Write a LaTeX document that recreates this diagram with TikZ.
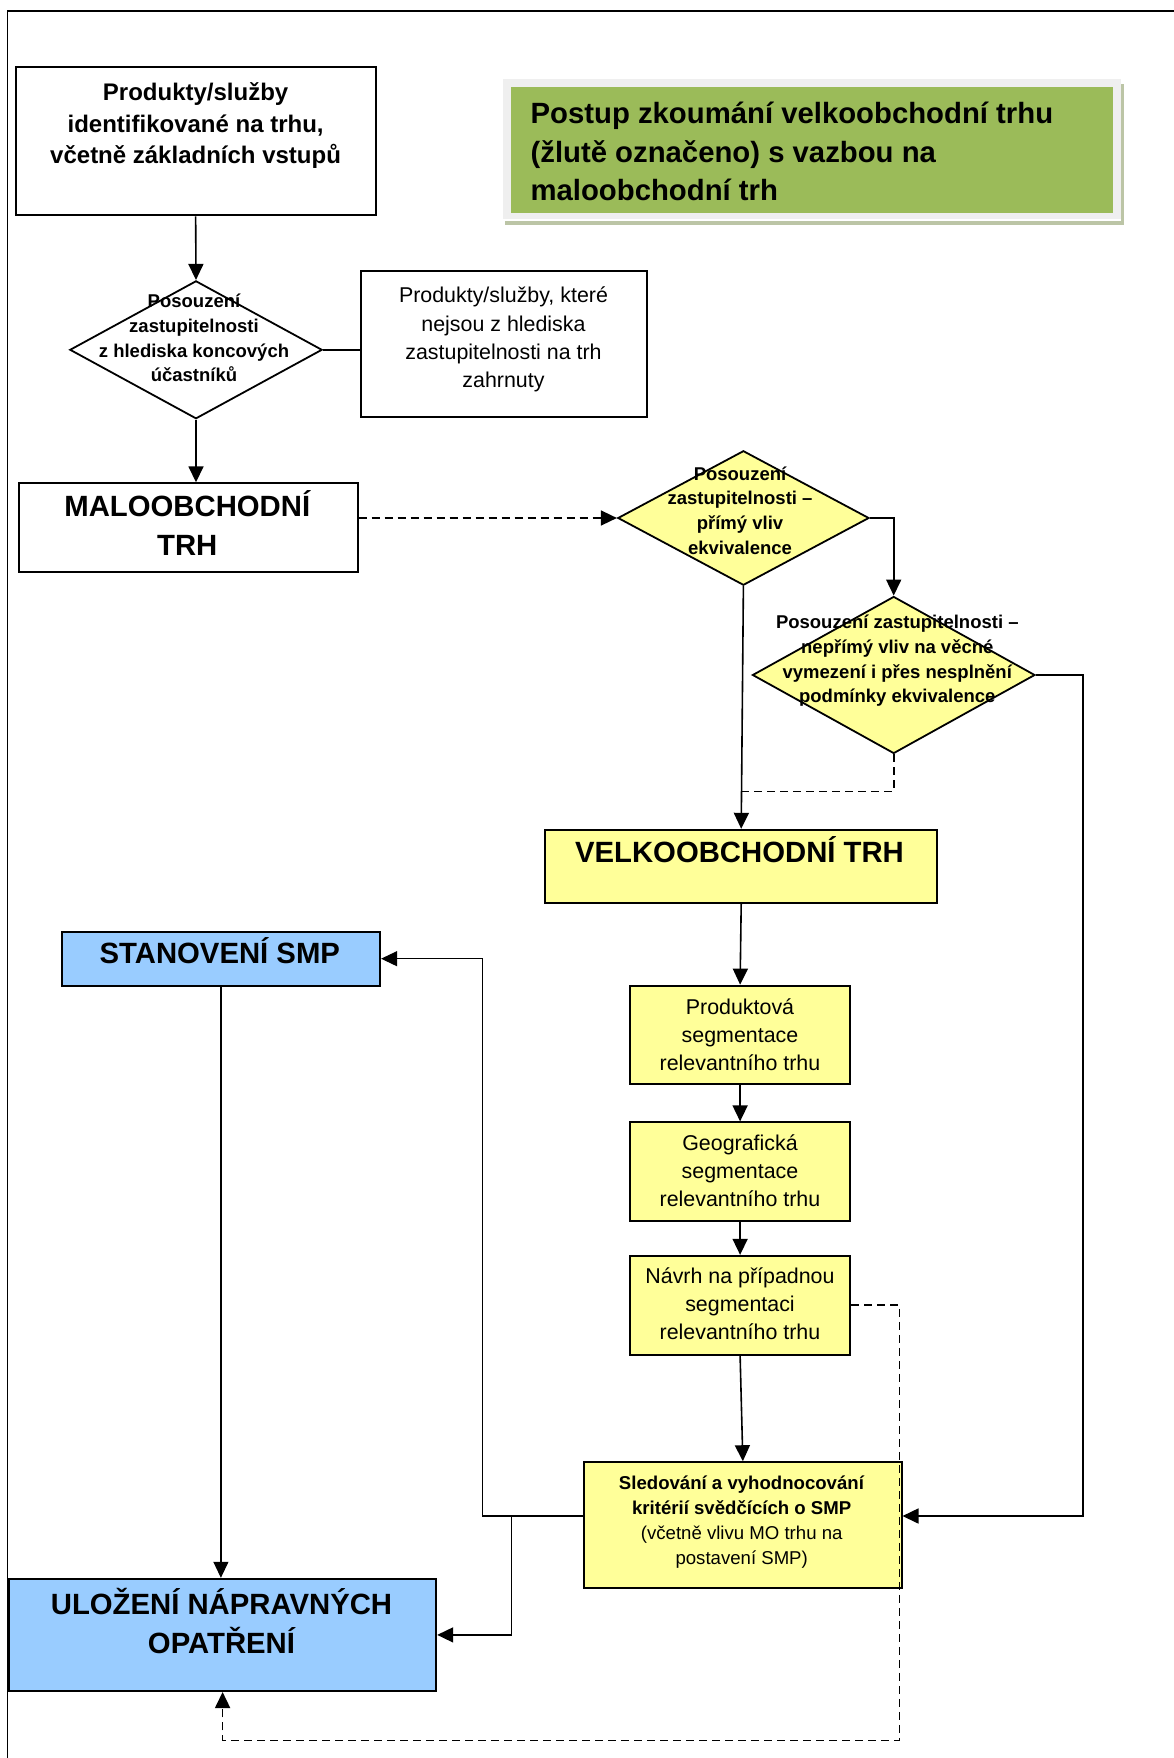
\documentclass[tikz,border=0pt]{standalone}
\usepackage{fontspec}
\setmainfont{Liberation Sans}
\usetikzlibrary{arrows.meta,shapes.geometric}
\definecolor{yel}{HTML}{FFFF99}
\definecolor{blu}{HTML}{99CCFF}
\definecolor{grn}{HTML}{9BBB59}
\definecolor{tframe}{HTML}{EFEFEF}
\definecolor{tshadow}{HTML}{BCC5A6}
\tikzset{
 boxw/.style={draw=black, line width=2pt, fill=white, inner sep=0pt, rectangle},
 boxy/.style={boxw, fill=yel},
 boxb/.style={boxw, fill=blu},
 dia/.style={draw=black, line width=1.8pt, shape=diamond, inner sep=0pt, fill=white},
 lbl/.style={inner sep=0pt, align=center, text=black},
 bigf/.style={lbl, font=\fontsize{29.3}{39.2}\selectfont\bfseries},
 smb/.style={lbl, font=\fontsize{18.5}{24.7}\selectfont\bfseries},
 medf/.style={lbl, font=\fontsize{21.4}{28.2}\selectfont},
 conn/.style={line width=1.6pt, -{Triangle[length=16pt,width=15pt]}},
 plainline/.style={line width=1.6pt},
 dconn/.style={conn, dash pattern=on 8pt off 5pt},
 dplain/.style={plainline, dash pattern=on 8pt off 5pt},
}
\begin{document}
\begin{tikzpicture}[x=1pt,y=-1pt]
\useasboundingbox (0,0) rectangle (1174,1758);
\fill[white] (0,0) rectangle (1174,1758);
% page frame
\draw[line width=1.6pt] (7.6,1762) -- (7.6,11) -- (1178,11);

% title
\fill[tshadow] (505,220.7) rectangle (1124,224.7);
\fill[tshadow] (1120.7,84) rectangle (1124,224.7);
\fill[tframe] (502.7,79.3) rectangle (1120.7,219.3);
\node[fill=grn, minimum width=602.6pt, minimum height=126pt, inner sep=0pt] (ti) at (812,149.7) {};
\node[lbl, align=left, anchor=west, font=\fontsize{29.3}{38.6}\selectfont\bfseries] (tit) at (530.4,151.4) {Postup zkoumání velkoobchodní trhu\\(žlutě označeno) s vazbou na\\maloobchodní trh};

% boxes
\node[boxw, minimum width=359.9pt, minimum height=148pt] (b1) at (195.65,141.3) {};
\node[lbl, font=\fontsize{24}{31.4}\selectfont\bfseries] (b1t) at (195.6,125.7) {Produkty/služby\\identifikované na trhu,\\včetně základních vstupů};

\node[dia, minimum width=252.3pt, minimum height=137.9pt] (d1) at (196,349.8) {};
\node[smb] (d1t) at (194,338.2) {Posouzení\\zastupitelnosti\\z hlediska koncových\\účastníků};

\node[boxw, minimum width=286pt, minimum height=145.7pt] (nz) at (504,344.25) {};
\node[medf] (nzt) at (503.5,339.6) {Produkty/služby, které\\nejsou z hlediska\\zastupitelnosti na trh\\zahrnuty};

\node[boxw, minimum width=338.7pt, minimum height=88.6pt] (mo) at (188.35,527.6) {};
\node[bigf] (mot) at (187.3,523.4) {MALOOBCHODNÍ\\TRH};

\node[dia, fill=yel, minimum width=251.2pt, minimum height=134.5pt] (d2) at (743.4,518) {};
\node[smb] (d2t) at (740,510.5) {Posouzení\\zastupitelnosti –\\přímý vliv\\ekvivalence};

\node[dia, fill=yel, minimum width=282.5pt, minimum height=157pt] (d3) at (893.7,675) {};
\node[smb] (d3t) at (897.3,661) {Posouzení zastupitelnosti –\\nepřímý vliv na věcné\\vymezení i přes nesplnění\\podmínky ekvivalence};

\node[boxy, minimum width=392.4pt, minimum height=73pt] (vo) at (741.2,866.3) {};
\node[bigf] (vot) at (739.5,849.5) {VELKOOBCHODNÍ TRH};

\node[boxb, minimum width=318.4pt, minimum height=53.8pt] (smp) at (220.9,958.7) {};
\node[bigf] (smpt) at (219.8,950.5) {STANOVENÍ SMP};

\node[boxy, minimum width=219.8pt, minimum height=98.7pt] (ps) at (740.1,1034.95) {};
\node[medf] (pst) at (740,1035) {Produktová\\segmentace\\relevantního trhu};

\node[boxy, minimum width=219.8pt, minimum height=98.7pt] (gs) at (740.1,1171.75) {};
\node[medf] (gst) at (740,1170.6) {Geografická\\segmentace\\relevantního trhu};

\node[boxy, minimum width=219.8pt, minimum height=98.7pt] (ns) at (740.1,1305.2) {};
\node[medf] (nst) at (740,1304) {Návrh na případnou\\segmentaci\\relevantního trhu};

\node[boxy, minimum width=317.3pt, minimum height=125.6pt] (sl) at (742.85,1525) {};
\node[lbl, font=\fontsize{18.6}{25}\selectfont] (slt) at (741.7,1522) {\textbf{Sledování a vyhodnocování}\\\textbf{kritérií svědčících o SMP}\\(včetně vlivu MO trhu na\\postavení SMP)};

\node[boxb, minimum width=427.2pt, minimum height=112.2pt] (ul) at (222.6,1634.9) {};
\node[bigf] (ult) at (221.5,1621) {ULOŽENÍ NÁPRAVNÝCH\\OPATŘENÍ};

% helper points
\coordinate (j1) at (742,791.6);
\coordinate (r1) at (1083.2,1516);
\coordinate (m1) at (899.3,1740.3);
\coordinate (jL) at (482.2,1516);
\coordinate (jM) at (511.3,1516);

% connectors
\draw[conn] (b1.south) -- (d1.north);
\draw[plainline] (d1.east) -- (d1.east -| nz.west);
\draw[conn] (d1.south) -- (d1.south |- mo.north);
\draw[dconn] (d2.west -| mo.east) -- (d2.west);
\draw[conn] (d2.east) -| (d3.north);
\draw[conn] (d2.south) -- (vo.north);
\draw[dplain] (d3.south) |- (j1);
\draw[conn] (d3.east) -| (r1) -- (r1 -| sl.east);
\draw[conn] (vo.south) -- (ps.north);
\draw[conn] (ps.south) -- (gs.north);
\draw[conn] (gs.south) -- (ns.north);
\draw[conn] (ns.south) -- (sl.north);
\draw[dconn] (ns.east) -| (m1) -| (ul.south);
\draw[conn, line width=1.2pt] (sl.west |- jL) -- (jL) |- (smp.east);
\draw[conn] (jM) |- (ul.east);
\draw[conn, line width=1.2pt] (smp.south) -- (smp.south |- ul.north);
\end{tikzpicture}
\end{document}
